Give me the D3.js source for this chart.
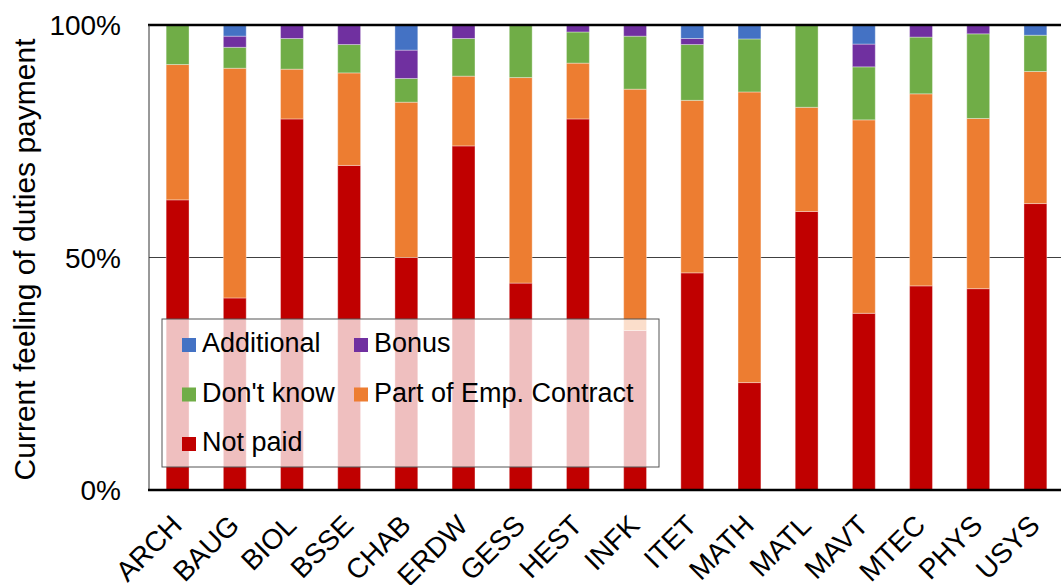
<!DOCTYPE html>
<html>
<head>
<meta charset="utf-8">
<script src="https://cdn.jsdelivr.net/npm/d3@7"></script>
<style>
  body { margin: 0; background: #fff; }
  svg { display: block; font-family: "Liberation Sans", Arial, sans-serif; }
</style>
</head>
<body>
<svg width="1061" height="585"></svg>
<script>
const width = 1061;
const height = 585;

const departments = ['ARCH','BAUG','BIOL','BSSE','CHAB','ERDW','GESS','HEST','INFK','ITET','MATH','MATL','MAVT','MTEC','PHYS','USYS'];

// percent per department, bottom to top of each stack
const notPaid    = [62.4, 41.3, 79.8, 69.8, 50.0, 74.0, 44.5, 79.8, 34.3, 46.7, 23.1, 59.9, 38.0, 43.9, 43.3, 61.6];
const partOfEmp  = [29.1, 49.4, 10.7, 19.9, 33.4, 15.0, 44.2, 12.0, 51.9, 37.1, 62.5, 22.4, 41.6, 41.3, 36.6, 28.4];
const dontKnow   = [ 8.5,  4.5,  6.6,  6.1,  5.1,  8.1, 11.3,  6.7, 11.4, 12.0, 11.4, 17.7, 11.4, 12.2, 18.2,  7.8];
const bonus      = [ 0.0,  2.4,  2.9,  4.2,  6.1,  2.9,  0.0,  1.5,  2.4,  1.3,  0.0,  0.0,  4.9,  2.6,  1.9,  0.0];
const additional = [ 0.0,  2.4,  0.0,  0.0,  5.4,  0.0,  0.0,  0.0,  0.0,  2.9,  3.0,  0.0,  4.1,  0.0,  0.0,  2.2];

const yTicks = [0, 0.5, 1];

const series = [
  { key: 'notPaid',    label: 'Not paid',              color: '#C00000', values: notPaid },
  { key: 'partOfEmp',  label: 'Part of Emp. Contract', color: '#ED7D31', values: partOfEmp },
  { key: 'dontKnow',   label: "Don't know",            color: '#70AD47', values: dontKnow },
  { key: 'bonus',      label: 'Bonus',                 color: '#7030A0', values: bonus },
  { key: 'additional', label: 'Additional',            color: '#4472C4', values: additional }
];

const svg = d3.select("svg");

const rows = departments.map((d, i) => {
  const row = { dept: d };
  let total = 0;
  series.forEach(s => { total += s.values[i]; });
  series.forEach(s => { row[s.key] = s.values[i] / total; });
  return row;
});

const stack = d3.stack().keys(series.map(s => s.key));
const stacked = stack(rows);

const x = d3.scaleBand()
  .domain(departments)
  .range([149, 1064])
  .paddingInner(0.6)
  .paddingOuter(0.3);

const y = d3.scaleLinear()
  .domain([0, 1])
  .range([490, 25]);

// 50% grid line
svg.append("line")
  .attr("x1", 149).attr("x2", width)
  .attr("y1", y(0.5)).attr("y2", y(0.5))
  .attr("stroke", "#404040")
  .attr("stroke-width", 1);

// bars
svg.append("g")
  .selectAll("g")
  .data(stacked)
  .enter().append("g")
  .attr("fill", (d, i) => series[i].color)
  .selectAll("rect")
  .data(d => d)
  .enter().append("rect")
  .attr("x", d => x(d.data.dept))
  .attr("width", x.bandwidth())
  .attr("y", d => y(d[1]))
  .attr("height", d => y(d[0]) - y(d[1]))
  .attr("stroke", "rgba(255,255,255,0.35)")
  .attr("stroke-width", 1);

// top 100% line and bottom axis
svg.append("line")
  .attr("x1", 148).attr("x2", width)
  .attr("y1", y(1)).attr("y2", y(1))
  .attr("stroke", "#000").attr("stroke-width", 2.5);

svg.append("line")
  .attr("x1", 149).attr("x2", 149)
  .attr("y1", y(1)).attr("y2", y(0))
  .attr("stroke", "#333").attr("stroke-width", 1);

svg.append("line")
  .attr("x1", 148).attr("x2", width)
  .attr("y1", y(0)).attr("y2", y(0))
  .attr("stroke", "#000").attr("stroke-width", 2.5);

// y tick labels
svg.append("g")
  .selectAll("text")
  .data(yTicks)
  .enter().append("text")
  .attr("x", 121)
  .attr("y", d => y(d))
  .attr("dy", "0.36em")
  .attr("text-anchor", "end")
  .attr("font-size", 28)
  .attr("fill", "#000")
  .text(d => d3.format(".0%")(d));

// y title
svg.append("text")
  .attr("transform", "translate(35," + ((y(0) + y(1)) / 2 + 2) + ") rotate(-90)")
  .attr("text-anchor", "middle")
  .attr("font-size", 30)
  .attr("fill", "#000")
  .text("Current feeling of duties payment");

// x labels
svg.append("g")
  .selectAll("text")
  .data(departments)
  .enter().append("text")
  .attr("transform", d => "translate(" + (x(d) + x.bandwidth() / 2 + 6) + ",527) rotate(-45)")
  .attr("text-anchor", "end")
  .attr("font-size", 28)
  .attr("fill", "#000")
  .text(d => d);

// legend
const legend = svg.append("g");
legend.append("rect")
  .attr("x", 162).attr("y", 319)
  .attr("width", 497).attr("height", 148)
  .attr("fill", "rgba(255,255,255,0.75)")
  .attr("stroke", "#555")
  .attr("stroke-width", 1);

const legendItems = [
  { s: series[4], col: 0, row: 0 },
  { s: series[3], col: 1, row: 0 },
  { s: series[2], col: 0, row: 1 },
  { s: series[1], col: 1, row: 1 },
  { s: series[0], col: 0, row: 2 }
];

const item = legend.selectAll("g.item")
  .data(legendItems)
  .enter().append("g")
  .attr("class", "item")
  .attr("transform", d => "translate(" + (d.col ? 354 : 182) + "," + (338 + d.row * 49.5) + ")");

item.append("rect")
  .attr("width", 14).attr("height", 14)
  .attr("fill", d => d.s.color);

item.append("text")
  .attr("x", 20)
  .attr("y", 14)
  .attr("font-size", 27)
  .attr("fill", "#000")
  .text(d => d.s.label);
</script>
</body>
</html>
